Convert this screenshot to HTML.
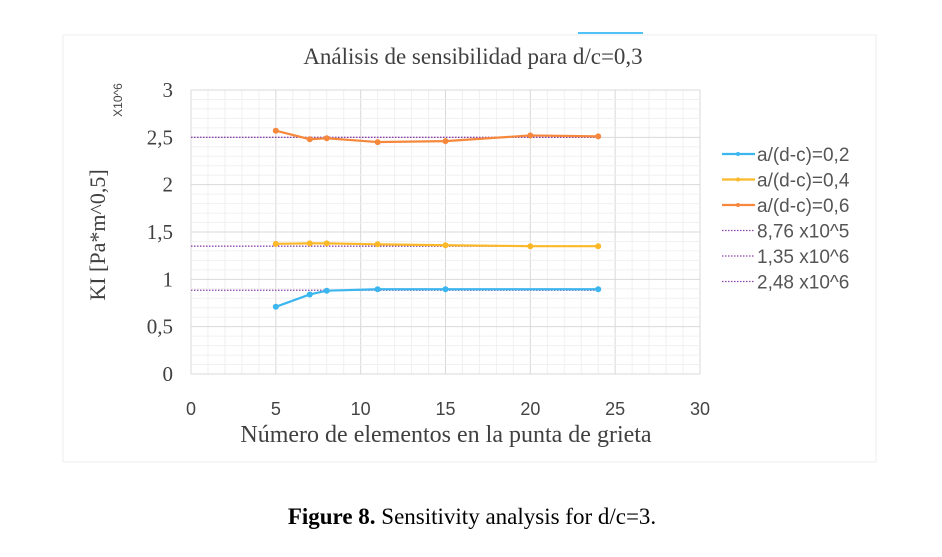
<!DOCTYPE html>
<html><head><meta charset="utf-8"><style>
body{margin:0;background:#fff;width:942px;height:552px;overflow:hidden;font-family:"Liberation Serif",serif}
</style></head><body>
<svg width="942" height="552" xmlns="http://www.w3.org/2000/svg">
<rect x="63" y="35" width="813" height="427" fill="#fff" stroke="#eee"/>
<line x1="578" y1="33" x2="643" y2="33" stroke="#4fc3f7" stroke-width="2"/>
<text x="473" y="64" font-size="23" fill="#404040" text-anchor="middle">Análisis de sensibilidad para d/c=0,3</text>
<g id="grid"></g>
<g id="axes"></g>
<g id="marks"></g>
<text x="0" y="0" font-size="22" fill="#404040" text-anchor="middle" transform="translate(105,235) rotate(-90)">KI [Pa*m^0,5]</text>
<text x="0" y="0" font-size="12" fill="#444" font-family="Liberation Sans,sans-serif" text-anchor="middle" transform="translate(122,100) rotate(-90)">X10^6</text>
<text x="446" y="442" font-size="24" fill="#404040" text-anchor="middle">Número de elementos en la punta de grieta</text>
<g id="legend"></g>
<text x="472" y="524" font-size="23" fill="#000" text-anchor="middle"><tspan font-weight="bold">Figure 8.</tspan> Sensitivity analysis for d/c=3.</text>
</svg>
<script>
const xs=[5,7,8,11,15,20,24];
const blueX=[5,7,8,11,15,24];
const blueY=[0.71,0.84,0.88,0.895,0.895,0.895];
const yellowY=[1.375,1.38,1.38,1.37,1.36,1.35,1.35];
const orangeY=[2.57,2.48,2.49,2.45,2.46,2.52,2.51];
const refVals=[0.885,1.35,2.5];
const refLabels=["8,76 x10^5","1,35 x10^6","2,48 x10^6"];
const xTicks=[0,5,10,15,20,25,30];
const yTicks=[0,0.5,1,1.5,2,2.5,3];
const yTickLabels=["0","0,5","1","1,5","2","2,5","3"];
const seriesNames=["a/(d-c)=0,2","a/(d-c)=0,4","a/(d-c)=0,6"];
const NS="http://www.w3.org/2000/svg";
const X=v=>191+v*(700-191)/30, Y=v=>374-v*(374-90)/3;
function mk(p,t,a){const e=document.createElementNS(NS,t);for(const k in a)e.setAttribute(k,a[k]);p.appendChild(e);return e;}
const grid=document.getElementById('grid'),axes=document.getElementById('axes'),marks=document.getElementById('marks'),leg=document.getElementById('legend');
for(let i=0;i<=30;i++){const l=mk(grid,'line',{x1:X(i),x2:X(i),y1:Y(0),y2:Y(3),stroke:i%5?'#f0f0f0':'#d9d9d9'});}
for(let i=0;i<=30;i++){const v=i/10;const l=mk(grid,'line',{x1:X(0),x2:X(30),y1:Y(v),y2:Y(v),stroke:i%5?'#f0f0f0':'#d9d9d9'});}
xTicks.forEach(v=>{const t=mk(axes,'text',{x:X(v),y:415,'font-size':18,fill:'#444','text-anchor':'middle','font-family':'Liberation Sans,sans-serif'});t.textContent=v;});
yTicks.forEach((v,i)=>{const t=mk(axes,'text',{x:173,y:Y(v)+7,'font-size':21,fill:'#404040','text-anchor':'end'});t.textContent=yTickLabels[i];});
refVals.forEach(v=>{const l=mk(marks,'line',{x1:X(0),x2:X(24),y1:Y(v),y2:Y(v),stroke:'#8e44ad','stroke-width':1.3,'stroke-dasharray':'1.5 1.5'});});
function series(xa,ya,c,name){const d=xa.map((x,i)=>(i?'L':'M')+X(x)+' '+Y(ya[i])).join(' ');const p=mk(marks,'path',{d:d,fill:'none',stroke:c,'stroke-width':2.2});
xa.forEach((x,i)=>{const m=mk(marks,'circle',{cx:X(x),cy:Y(ya[i]),r:3,fill:c});});}
series(blueX,blueY,'#3cb6ee','series-0-2');series(xs,yellowY,'#fbb829','series-0-4');series(xs,orangeY,'#f5883c','series-0-6');
const cols=['#3cb6ee','#fbb829','#f5883c'];
for(let i=0;i<6;i++){const y=154+i*25.5;if(i<3){const l=mk(leg,'line',{x1:722,x2:755,y1:y,y2:y,stroke:cols[i],'stroke-width':2.2});const c=mk(leg,'circle',{cx:738,cy:y,r:2,fill:cols[i]});}
else{const l=mk(leg,'line',{x1:722,x2:755,y1:y,y2:y,stroke:'#8e44ad','stroke-width':1.2,'stroke-dasharray':'1.5 1.5'});}
const t=mk(leg,'text',{x:757,y:y+7,'font-size':19,fill:'#555','font-family':'Liberation Sans,sans-serif'});t.textContent=i<3?seriesNames[i]:refLabels[i-3];}
</script>
</body></html>
